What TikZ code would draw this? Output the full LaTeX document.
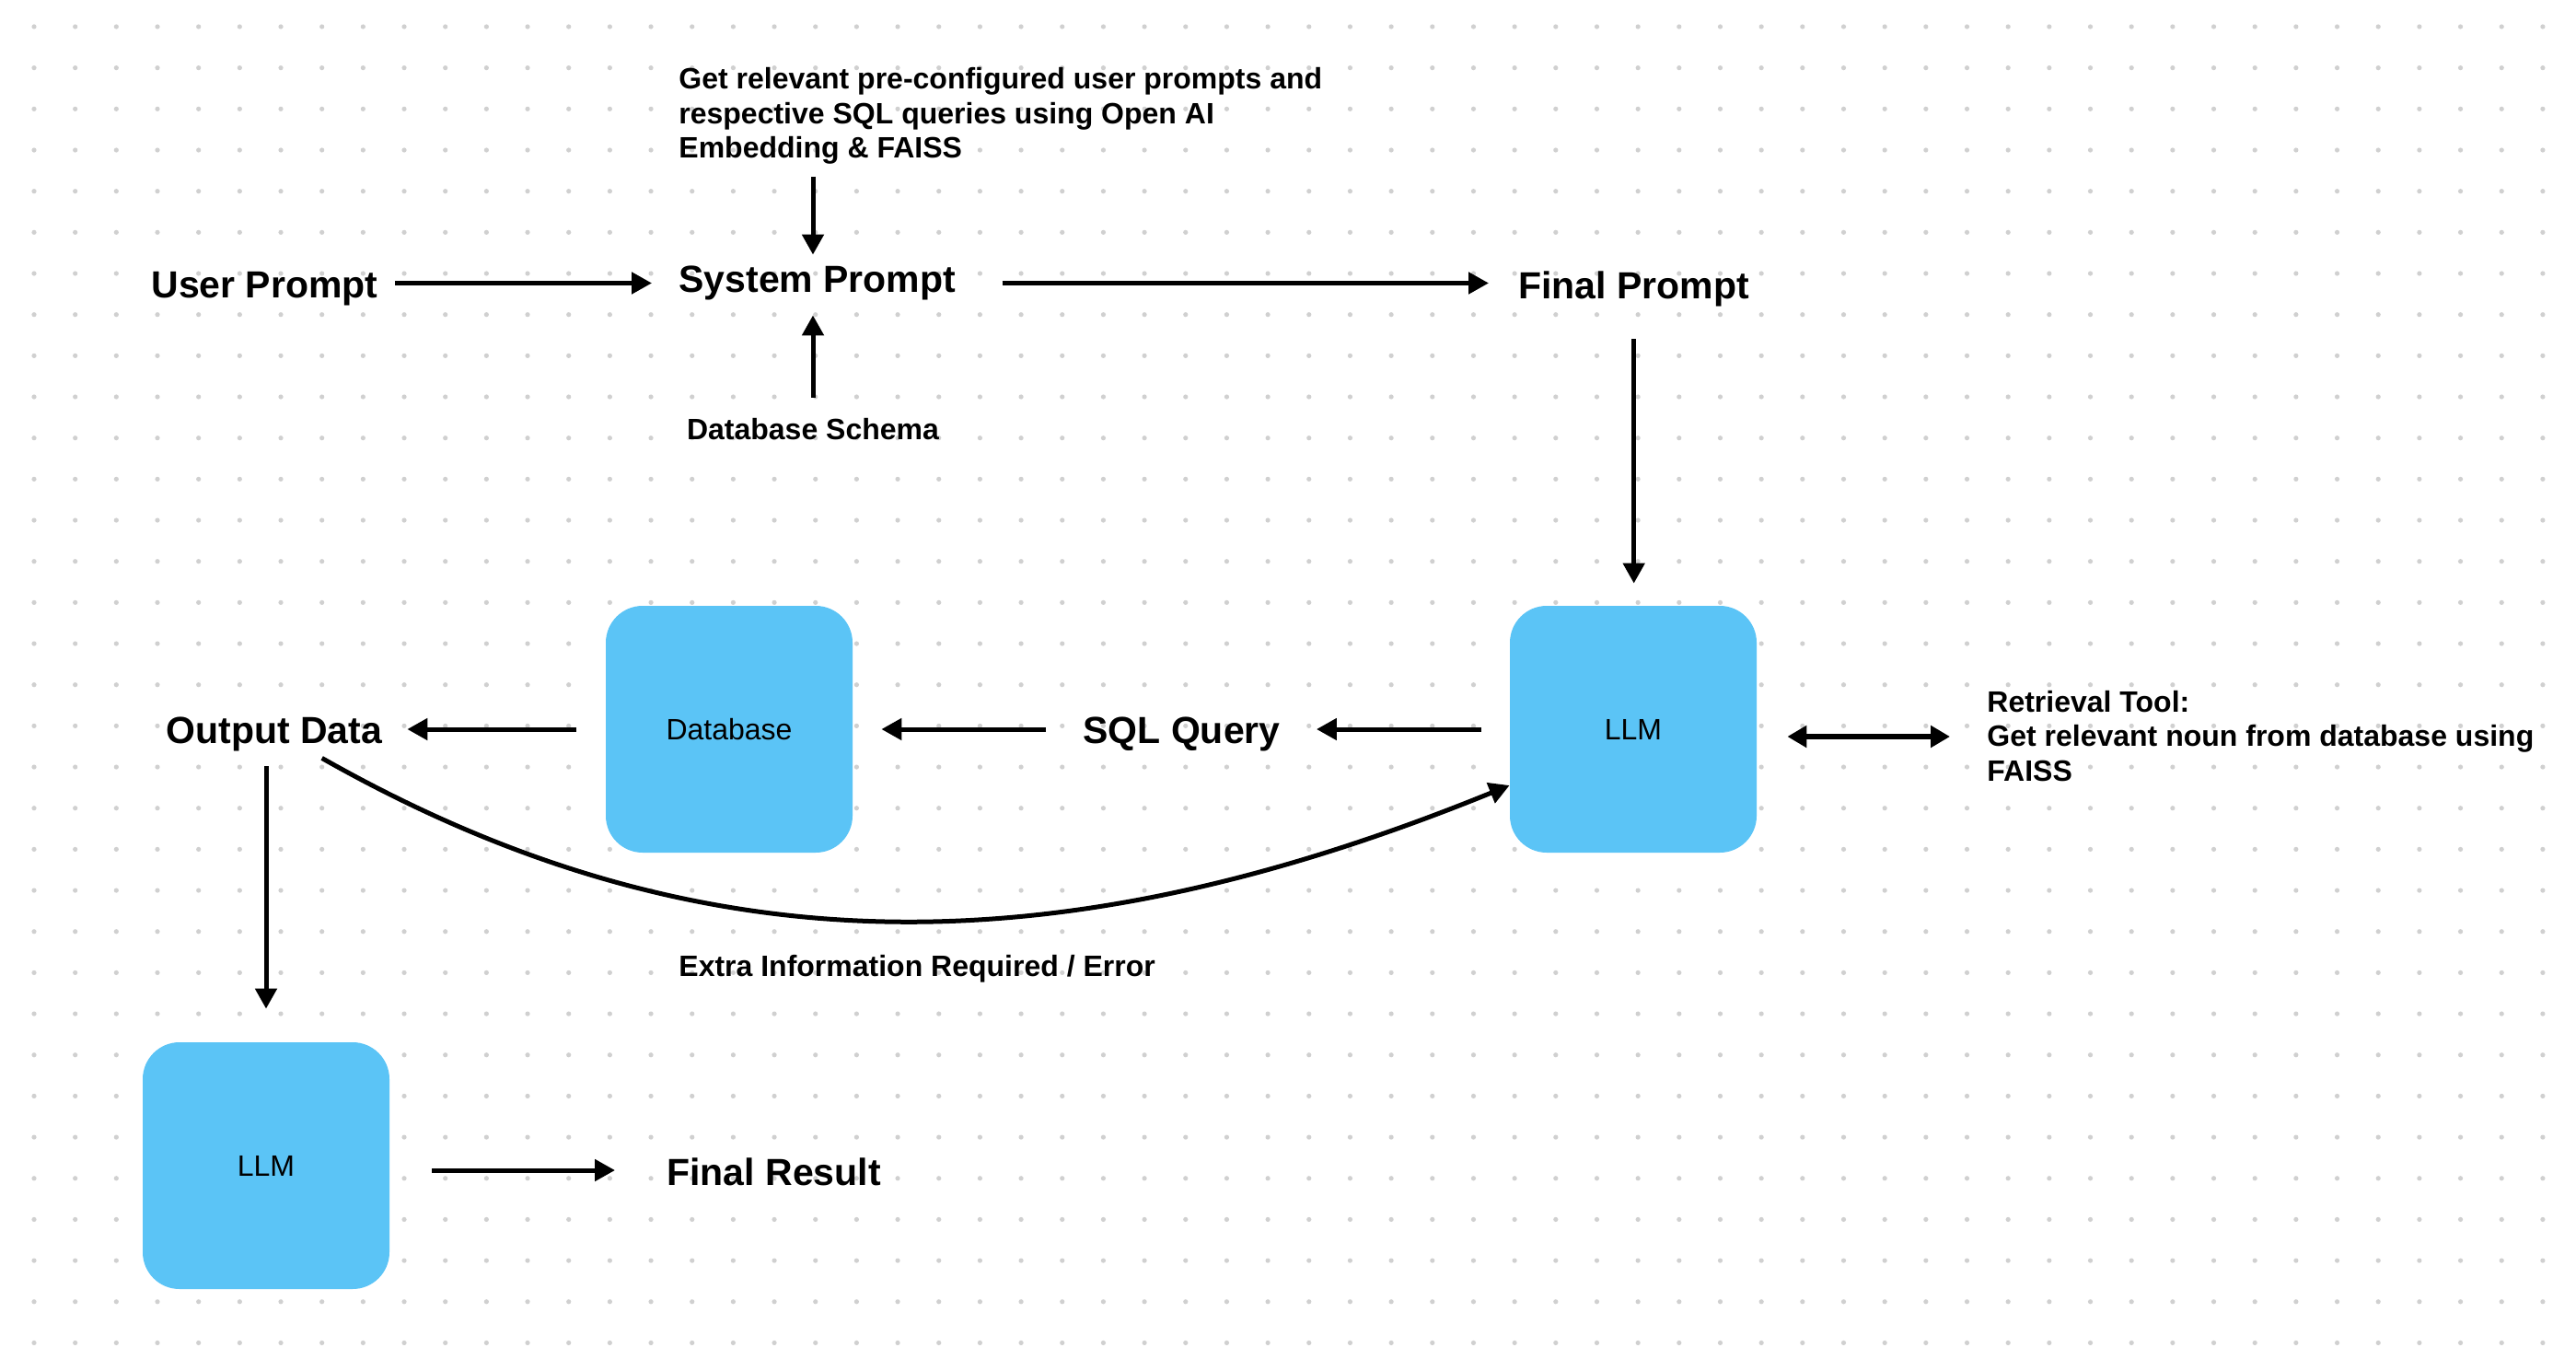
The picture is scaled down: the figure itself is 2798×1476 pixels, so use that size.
\documentclass[tikz,border=0pt]{standalone}
\usepackage{fontspec}
\setmainfont{Liberation Sans}
\usetikzlibrary{arrows.meta}
\definecolor{boxblue}{RGB}{91,196,246}
\definecolor{dotgray}{RGB}{208,208,208}
\begin{document}
\begin{tikzpicture}[x=0.5pt,y=-0.5pt,
  big/.style={font=\fontsize{20.5}{24}\selectfont\bfseries, inner sep=0pt, text height=15pt, text depth=4.5pt},
  small/.style={font=\fontsize{16}{18.75}\selectfont\bfseries, inner sep=0pt},
  box/.style={fill=boxblue, rounded corners=20pt, minimum width=134pt, minimum height=134pt, inner sep=0pt, font=\fontsize{16}{19}\selectfont},
  arr/.style={line width=2.5pt, -{Triangle[length=11pt,width=11.5pt]}},
  darr/.style={line width=3pt, {Triangle[length=10.5pt,width=11.5pt]}-{Triangle[length=10.5pt,width=11.5pt]}}
]
\useasboundingbox (0,0) rectangle (2798,1476);
\fill[white] (0,0) rectangle (2798,1476);
% dot grid
\foreach \i in {0,...,61}{
  \foreach \j in {0,...,32}{
    \fill[dotgray] (37+44.67*\i, 29+44.67*\j) circle (1.3pt);
  }
}
% boxes
\node[box] (db) at (792,792) {Database};
\node[box] (llm) at (1774,792) {LLM};
\node[box] (llm2) at (289,1266) {LLM};
% texts
\node[big,anchor=base west] (user) at (164,324) {User Prompt};
\node[big,anchor=base west] (sys) at (737,318) {System Prompt};
\node[big,anchor=base west] (final) at (1649,325) {Final Prompt};
\node[big,anchor=base west] (out) at (180,807) {Output Data};
\node[big,anchor=base west] (sql) at (1176,807) {SQL Query};
\node[big,anchor=base west] (fres) at (724,1287) {Final Result};
\node[small,anchor=base,text height=11.5pt,text depth=3pt] (dbs) at (883,477) {Database Schema};
\node[small,anchor=base west] (topt) at (737,97) {\begin{tabular}[t]{@{}l@{}}Get relevant pre-configured user prompts and\\respective SQL queries using Open AI\\Embedding \& FAISS\end{tabular}};
\node[small,anchor=base west] (ret) at (2158,773) {\begin{tabular}[t]{@{}l@{}}Retrieval Tool:\\Get relevant noun from database using\\FAISS\end{tabular}};
\node[small,anchor=base west] (extra) at (737,1060) {Extra Information Required / Error};
% connectors
\draw[arr] ([xshift=9pt]user.east |- sys.center) -- ([xshift=-14.5pt]sys.west);
\draw[arr] ([yshift=-4pt]topt.south -| dbs.center) -- ([yshift=5.5pt]sys.north -| dbs.center);
\draw[arr] ([yshift=11pt]dbs.north) -- ([yshift=-7.5pt]sys.south -| dbs.center);
\draw[arr] ([xshift=25pt]sys.east) -- ([xshift=-16pt]final.west |- sys.east);
\draw[arr] ([yshift=-17pt]final.south) -- ([yshift=12pt]final.south |- llm.north);
\draw[arr] ([xshift=-15.5pt]llm.west) -- ([xshift=19.5pt]sql.east |- llm.west);
\draw[arr] ([xshift=-20pt]sql.west |- db.east) -- ([xshift=15.5pt]db.east);
\draw[arr] ([xshift=-16pt]db.west) -- ([xshift=13.5pt]out.east |- db.west);
\draw[arr] ([yshift=-8pt]out.south -| llm2.north) -- ([yshift=18pt]llm2.north);
\draw[arr] ([xshift=23pt,yshift=-2.5pt]llm2.east) -- ([xshift=-28pt,yshift=2.75pt]fres.west);
\draw[arr] ([xshift=26pt,yshift=-3.5pt]out.south) .. controls (760,1056) and (1150,1052) .. ([yshift=-30.5pt]llm.west);
\draw[darr] ([xshift=16.5pt,yshift=-4pt]llm.east) -- ([xshift=-20pt,yshift=-4pt]llm.east -| ret.west);
\end{tikzpicture}
\end{document}
